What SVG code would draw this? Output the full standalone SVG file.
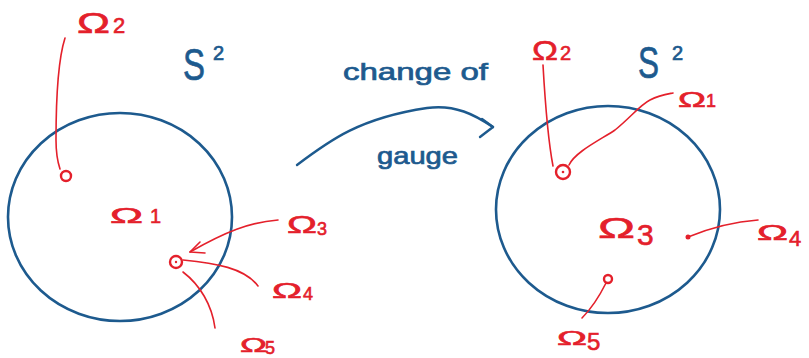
<svg xmlns="http://www.w3.org/2000/svg" width="809" height="358" viewBox="0 0 809 358">
<style>
.bg{fill:#ffffff}
.sphere{fill:none;stroke:#1d5a8e;stroke-width:2.6}
.blue{fill:#1d5a8e;stroke:#1d5a8e;stroke-width:0.7;font-family:"Liberation Sans",Arial,sans-serif}
.red{fill:#e4202b;stroke:#e4202b;stroke-width:0.6;font-family:"Liberation Sans",Arial,sans-serif}
.rl{fill:none;stroke:#e4202b;stroke-width:1.6;stroke-linecap:round;stroke-linejoin:round}
.rc{fill:none;stroke:#e4202b;stroke-width:2.4}
.bl{fill:none;stroke:#1d5a8e;stroke-width:2.4;stroke-linecap:round;stroke-linejoin:round}
</style>
<rect class="bg" x="0" y="0" width="809" height="358"/>

<g id="left-sphere">
  <ellipse class="sphere" cx="120" cy="217" rx="112" ry="104"/>
  <text class="blue" x="183" y="80" font-size="44" textLength="22" lengthAdjust="spacingAndGlyphs">S</text>
  <text class="blue" x="213" y="60" font-size="20">2</text>
  <text class="red" x="110" y="223" font-size="22" textLength="33" lengthAdjust="spacingAndGlyphs">Ω</text>
  <text class="red" x="150" y="223" font-size="20">1</text>
</g>

<g id="left-omega2">
  <text class="red" x="77" y="33" font-size="30" textLength="33" lengthAdjust="spacingAndGlyphs">Ω</text>
  <text class="red" x="113" y="33" font-size="22">2</text>
  <circle class="rc" cx="66" cy="176" r="5"/>
</g>

<g id="left-point">
  <circle class="rc" cx="176" cy="262" r="6"/>
  <circle cx="176" cy="262" r="1.2" fill="#e4202b"/>
</g>

<g id="left-omega3">
  <text class="red" x="287" y="233" font-size="24" textLength="30" lengthAdjust="spacingAndGlyphs">Ω</text>
  <text class="red" x="317" y="235" font-size="18">3</text>
</g>
<g id="left-omega4">
  <text class="red" x="272" y="298" font-size="22" textLength="30" lengthAdjust="spacingAndGlyphs">Ω</text>
  <text class="red" x="303" y="300" font-size="18">4</text>
</g>
<g id="left-omega5">
  <text class="red" x="240" y="352" font-size="20" textLength="27" lengthAdjust="spacingAndGlyphs">Ω</text>
  <text class="red" x="265" y="354" font-size="18">5</text>
</g>

<g id="gauge-label">
  <text class="blue" x="343" y="80" font-size="24" textLength="145" lengthAdjust="spacingAndGlyphs">change of</text>
  <text class="blue" x="377" y="164" font-size="24" textLength="81" lengthAdjust="spacingAndGlyphs">gauge</text>
</g>

<g id="right-sphere">
  <ellipse class="sphere" cx="608" cy="209.5" rx="112" ry="103.5"/>
  <text class="blue" x="638" y="78" font-size="44" textLength="21" lengthAdjust="spacingAndGlyphs">S</text>
  <text class="blue" x="672" y="60" font-size="20">2</text>
  <text class="red" x="598" y="238" font-size="30" textLength="37" lengthAdjust="spacingAndGlyphs">Ω</text>
  <text class="red" x="637" y="245" font-size="30">3</text>
</g>

<g id="right-omega2">
  <text class="red" x="532" y="60" font-size="28" textLength="26" lengthAdjust="spacingAndGlyphs">Ω</text>
  <text class="red" x="560" y="60" font-size="20">2</text>
</g>
<g id="right-point">
  <circle class="rc" cx="563" cy="172" r="7"/>
  <circle cx="563" cy="172" r="1.3" fill="#e4202b"/>
</g>
<g id="right-omega1">
  <text class="red" x="678" y="107" font-size="22" textLength="28" lengthAdjust="spacingAndGlyphs">Ω</text>
  <text class="red" x="706" y="107" font-size="18">1</text>
</g>
<g id="right-omega4">
  <circle cx="688" cy="237" r="2.5" fill="#e4202b"/>
  <text class="red" x="757" y="240" font-size="22" textLength="31" lengthAdjust="spacingAndGlyphs">Ω</text>
  <text class="red" x="789" y="246" font-size="22">4</text>
</g>
<g id="right-omega5">
  <circle class="rc" cx="608" cy="279" r="4"/>
  <text class="red" x="557" y="345" font-size="20" textLength="30" lengthAdjust="spacingAndGlyphs">Ω</text>
  <text class="red" x="587" y="350" font-size="24">5</text>
</g>

<g id="connectors">
  <path class="rl" d="M65,38 C58,60 56,100 56,140 C56,155 58,163 60,169"/>
  <path class="rl" d="M278,220 C250,222 225,232 190,252"/>
  <polyline class="rl" points="200,242 190,252 205,253"/>
  <path class="rl" d="M183,260 C215,263 245,268 258,286"/>
  <path class="rl" d="M183,272 C200,285 212,305 215,328"/>
  <path class="bl" d="M297,165 C330,140 360,118 427,108 C455,104 475,115 493,127"/>
  <polyline class="bl" points="482,119 493,127 480,137"/>
  <path class="rl" d="M543,65 C545,100 548,140 553,166"/>
  <path class="rl" d="M569,165 C575,152 600,140 615,130 C630,118 640,105 650,100 C660,95 668,94 673,93"/>
  <path class="rl" d="M688,237 C710,228 730,222 758,220"/>
  <path class="rl" d="M606,283 C600,295 590,310 582,318"/>
</g>
</svg>
